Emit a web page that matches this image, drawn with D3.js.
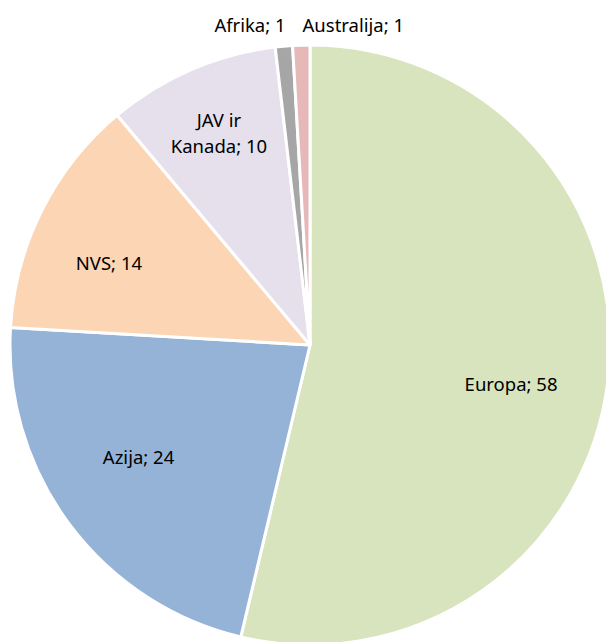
<!DOCTYPE html>
<html>
<head>
<meta charset="utf-8">
<script src="https://cdn.jsdelivr.net/npm/d3@7"></script>
<style>
  html, body { margin: 0; padding: 0; background: #fff; }
  svg { display: block; }
</style>
</head>
<body>
<svg id="chart" width="606" height="642"></svg>
<script>
const categories = ["Europa", "Azija", "NVS", "JAV ir Kanada", "Afrika", "Australija"];
const labelLines = [["Europa; 58"], ["Azija; 24"], ["NVS; 14"], ["JAV ir", "Kanada; 10"], ["Afrika; 1"], ["Australija; 1"]];
const values = [58, 24, 14, 10, 1, 1];
const colors = ["#d7e4bd", "#95b3d7", "#fcd5b5", "#e6e0ec", "#a6a6a6", "#e6b9b8"];

const svg = d3.select("#chart");
const cx = 310, cy = 345, R = 300;
const g = svg.append("g").attr("transform", `translate(${cx},${cy})`);

const data = categories.map((c, i) => ({ name: c, value: values[i], color: colors[i], lines: labelLines[i] }));
const pie = d3.pie().sort(null).value(d => d.value);
const arcs = pie(data);
const arc = d3.arc().innerRadius(0).outerRadius(R);

g.selectAll("path").data(arcs).join("path")
  .attr("d", arc)
  .attr("fill", d => d.data.color)
  .attr("stroke", "#fff")
  .attr("stroke-width", 3)
  .attr("stroke-linejoin", "round");

const labelR = [205, 205, 217, 230];
const fontSize = 18.5;
const lineH = 26;
arcs.forEach((a, i) => {
  const mid = (a.startAngle + a.endAngle) / 2;
  let x, y, anchor;
  if (a.data.value >= 5) {
    let r = labelR[i] || 210;
    let ang = mid;
    if (i === 0) ang += 0.08;
    if (i === 1) ang += 0.06;
    if (i === 2) ang -= 0.08;
    x = r * Math.sin(ang);
    y = -r * Math.cos(ang);
    anchor = "middle";
  } else {
    const r = 326;
    x = r * Math.sin(mid);
    y = -319;
    anchor = (i === 4) ? "end" : "start";
    x += (i === 4) ? 4 : 2;
  }
  const n = a.data.lines.length;
  const t = g.append("text")
    .attr("text-anchor", anchor)
    .attr("font-family", "'Noto Sans', 'Open Sans', sans-serif")
    .attr("font-size", fontSize)
    .attr("fill", "#000");
  a.data.lines.forEach((ln, k) => {
    t.append("tspan")
      .attr("x", x)
      .attr("y", y + (k - (n - 1) / 2) * lineH + fontSize * 0.35)
      .text(ln);
  });
});
</script>
</body>
</html>
